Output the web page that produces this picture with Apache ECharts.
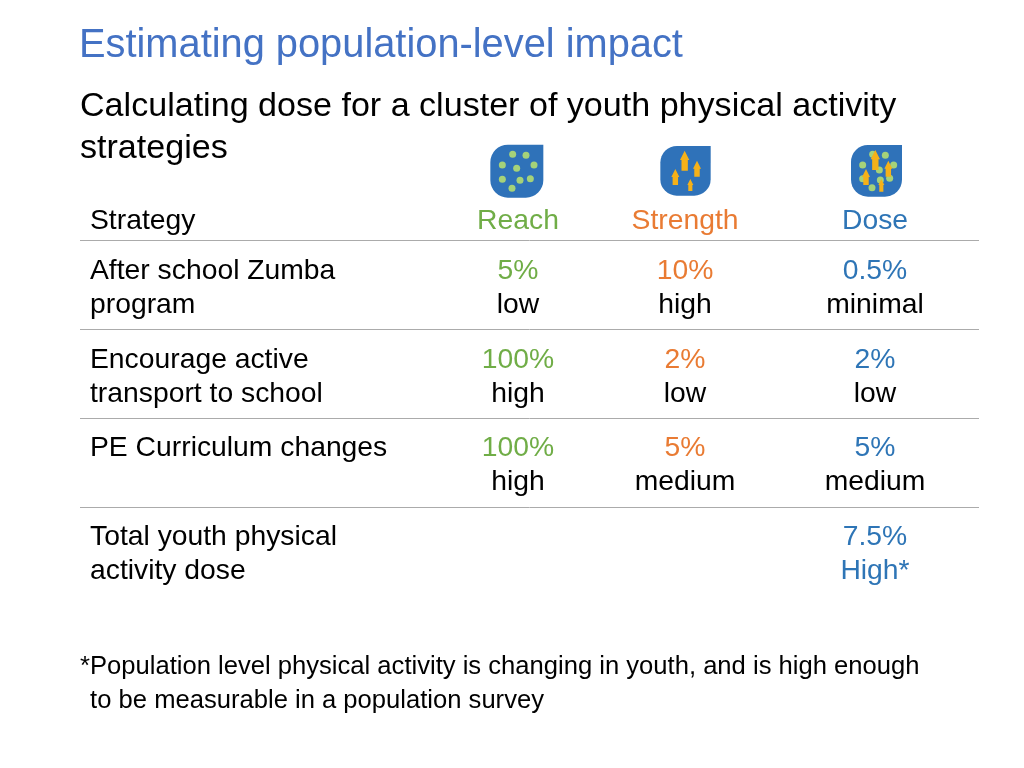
<!DOCTYPE html>
<html><head><meta charset="utf-8">
<style>html,body{margin:0;padding:0;background:#fff}#c{width:1024px;height:768px}</style>
<script src="https://cdn.jsdelivr.net/npm/echarts@6/dist/echarts.min.js"></script>
</head><body><div id="c"></div>
<script>
const titleText = "Estimating population-level impact";
const subtitleLines = ["Calculating dose for a cluster of youth physical activity", "strategies"];
const headers = ["Strategy", "Reach", "Strength", "Dose"];
const strategies = [["After school Zumba", "program"], ["Encourage active", "transport to school"], ["PE Curriculum changes", ""], ["Total youth physical", "activity dose"]];
const reachValues = [["5%", "low"], ["100%", "high"], ["100%", "high"], ["", ""]];
const strengthValues = [["10%", "high"], ["2%", "low"], ["5%", "medium"], ["", ""]];
const doseValues = [["0.5%", "minimal"], ["2%", "low"], ["5%", "medium"], ["7.5%", "High*"]];
const footnoteLines = ["*Population level physical activity is changing in youth, and is high enough", " to be measurable in a population survey"];

const FONT = '"Liberation Sans", Arial, sans-serif';
const GREEN = '#70AD47', ORANGE = '#E97B33', BLUE = '#2E75B6', BLACK = '#000';
const els = [];
function txt(s, x, y, size, fill, align) {
  if (!s) return;
  els.push({type:'text', x, y, silent:true, style:{text:s, x:0, y:0, fontFamily:FONT, fontSize:size, fill, align:align||'left', verticalAlign:'middle'}});
}
function rule(y){ els.push({type:'line', silent:true, shape:{x1:80,y1:y+0.5,x2:979,y2:y+0.5}, style:{stroke:'#ABABAB', lineWidth:1}}); }

txt(titleText, 79, 46, 39.8, '#4472C4');
txt(subtitleLines[0], 80, 107, 34.1, BLACK);
txt(subtitleLines[1], 80, 149, 34.1, BLACK);

const colX = [90, 518, 685, 875];
const SIZE = 28.3;
txt(headers[0], colX[0], 221, SIZE, BLACK);
txt(headers[1], colX[1], 221, SIZE, GREEN, 'center');
txt(headers[2], colX[2], 221, SIZE, ORANGE, 'center');
txt(headers[3], colX[3], 221, SIZE, BLUE, 'center');

const rowY = [[271,305],[360,394],[448,482],[537,571]];
const rules = [240,329,418,507];
rules.forEach(rule);
strategies.forEach((s,i)=>{
  txt(s[0], colX[0], rowY[i][0], SIZE, BLACK);
  txt(s[1], colX[0], rowY[i][1], SIZE, BLACK);
  txt(reachValues[i][0], colX[1], rowY[i][0], SIZE, GREEN, 'center');
  txt(reachValues[i][1], colX[1], rowY[i][1], SIZE, BLACK, 'center');
  txt(strengthValues[i][0], colX[2], rowY[i][0], SIZE, ORANGE, 'center');
  txt(strengthValues[i][1], colX[2], rowY[i][1], SIZE, BLACK, 'center');
  txt(doseValues[i][0], colX[3], rowY[i][0], SIZE, BLUE, 'center');
  txt(doseValues[i][1], colX[3], rowY[i][1], SIZE, i===3?BLUE:BLACK, 'center');
});
txt(footnoteLines[0], 80, 667, 25.6, BLACK);
txt(footnoteLines[1], 83, 701, 25.6, BLACK);

function zx(v){return 470+v/3;} function zy(v){return 130+v/3;}
function icon(x0,y0,x1,y1){
  const w=(x1-x0)/3,h=(y1-y0)/3;
  els.push({type:'rect',silent:true,shape:{x:zx(x0),y:zy(y0),width:w,height:h,r:[w*0.33,0,h*0.33,h*0.33]},style:{fill:'#2F72B9'}});
}
function dot(x,y){els.push({type:'circle',silent:true,shape:{cx:zx(x),cy:zy(y),r:3.5},style:{fill:'#A5D279'}});}
function arrow(x,t,b,hw){
  const sw=hw*0.68, hh=hw*2;
  const p=[[x,t],[x+hw,t+hh],[x+sw,t+hh],[x+sw,b],[x-sw,b],[x-sw,t+hh],[x-hw,t+hh]].map(q=>[zx(q[0]),zy(q[1])]);
  els.push({type:'polygon',silent:true,shape:{points:p},style:{fill:'#F5B119'}});
}
icon(61,44,220,203);
[[128,73],[168,76],[97,105],[140,115],[192,105],[97,148],[150,151],[181,146],[126,175]].forEach(d=>dot(d[0],d[1]));
icon(571,48,722,197);
[[644,62,122,14],[681,92,140,12],[616,117,165,12],[661,147,183,9]].forEach(a=>arrow(a[0],a[1],a[2],a[3]));
icon(1143,45,1296,200);
[[1208,73],[1246,76],[1178,105],[1228,120],[1271,105],[1178,146],[1231,150],[1259,145],[1206,173]].forEach(d=>dot(d[0],d[1]));
[[1216,60,120,14],[1255,92,140,12],[1188,117,165,12],[1234,147,185,9]].forEach(a=>arrow(a[0],a[1],a[2],a[3]));

const chart = echarts.init(document.getElementById('c'), null, {renderer:'canvas'});
chart.setOption({animation:false, backgroundColor:'#fff', graphic:{elements:els}});
</script></body></html>
